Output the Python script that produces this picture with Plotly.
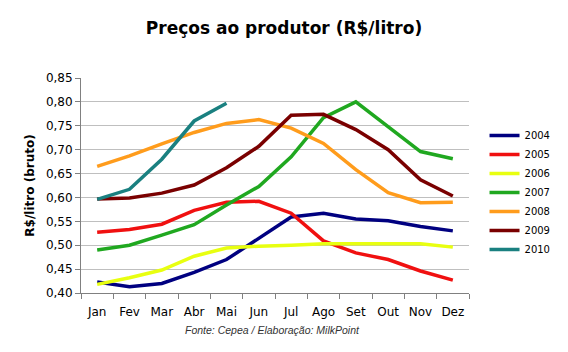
import plotly.graph_objects as go

months = ["Jan", "Fev", "Mar", "Abr", "Mai", "Jun", "Jul", "Ago", "Set", "Out", "Nov", "Dez"]
s2004 = [0.423, 0.413, 0.420, 0.443, 0.470, 0.515, 0.559, 0.567, 0.555, 0.551, 0.539, 0.530]
s2005 = [0.527, 0.533, 0.544, 0.573, 0.590, 0.592, 0.567, 0.509, 0.484, 0.470, 0.446, 0.427]
s2006 = [0.418, 0.432, 0.448, 0.477, 0.494, 0.498, 0.500, 0.503, 0.503, 0.503, 0.503, 0.496]
s2007 = [0.490, 0.500, 0.521, 0.543, 0.584, 0.623, 0.685, 0.767, 0.800, 0.749, 0.696, 0.681]
s2008 = [0.665, 0.687, 0.712, 0.736, 0.755, 0.763, 0.745, 0.713, 0.658, 0.610, 0.589, 0.590]
s2009 = [0.597, 0.599, 0.609, 0.626, 0.662, 0.707, 0.772, 0.774, 0.742, 0.700, 0.637, 0.603]
s2010 = [0.596, 0.617, 0.680, 0.760, 0.797]

series = [
    ("2004", s2004, "#000080"),
    ("2005", s2005, "#f01010"),
    ("2006", s2006, "#e8ff10"),
    ("2007", s2007, "#20a820"),
    ("2008", s2008, "#ff9c1c"),
    ("2009", s2009, "#7a0000"),
    ("2010", s2010, "#1a8080"),
]

fig = go.Figure()
for name, vals, color in series:
    fig.add_trace(go.Scatter(x=months[:len(vals)], y=vals, name=name, mode="lines",
                             line=dict(color=color, width=3.5)))

fig.update_layout(
    width=568, height=352,
    margin=dict(l=81, r=90, t=78, b=59),
    paper_bgcolor="white", plot_bgcolor="white",
    separators=",.",
    font=dict(family="DejaVu Sans", size=11, color="#000000"),
    title=dict(text="<b>Preços ao produtor (R$/litro)</b>", x=0.5, xanchor="center",
               y=0.92, yanchor="middle", font=dict(size=17, family="DejaVu Sans")),
    legend=dict(x=1.04, y=0.80, xanchor="left", yanchor="top", font=dict(size=10),
                tracegroupgap=0, itemwidth=30, bgcolor="rgba(0,0,0,0)"),
    showlegend=True,
)
fig.update_xaxes(type="category", categoryorder="array", categoryarray=months,
                 range=[-0.5, 11.5], showgrid=False, showline=True, linecolor="#808080",
                 ticks="outside", tickson="boundaries", ticklen=5, tickcolor="#808080",
                 ticklabelstandoff=8, tickangle=0, tickfont=dict(size=12))
fig.update_yaxes(range=[0.40, 0.85], dtick=0.05, tickformat=".2f", showgrid=True,
                 gridcolor="#bfbfbf", gridwidth=1, showline=True, linecolor="#808080",
                 ticks="outside", ticklen=5, tickcolor="#808080", zeroline=False,
                 tickfont=dict(size=12),
                 title=dict(text="<b>R$/litro (bruto)</b>", font=dict(size=12), standoff=8))
fig.add_annotation(text="<i>Fonte: Cepea / Elaboração: MilkPoint</i>", xref="paper", yref="paper",
                   x=0.494, y=-0.172, xanchor="center", yanchor="middle", showarrow=False,
                   font=dict(size=10.5, family="Liberation Sans", color="#333333"))

fig.write_html("out.html")
